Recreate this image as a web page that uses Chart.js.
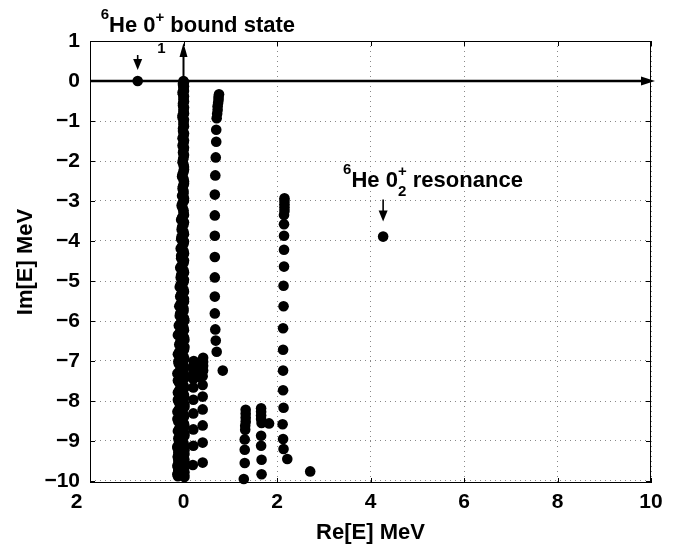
<!DOCTYPE html>
<html><head><meta charset="utf-8">
<script src="https://cdn.jsdelivr.net/npm/chart.js@4/dist/chart.umd.min.js"></script>
<style>html,body{margin:0;padding:0;background:#fff}#wrap{width:684px;height:551px;position:relative}</style>
</head><body><div id="wrap"><canvas id="c" width="684" height="551"></canvas></div>
<script>
// ---- axis ticks ----
const xTicks = [-2, 0, 2, 4, 6, 8, 10];
const xTickLabels = ['2\u2003 ', '0', '2', '4', '6', '8', '10'];
const yTicks = [1, 0, -1, -2, -3, -4, -5, -6, -7, -8, -9, -10];
const yTickLabels = ['1', '0', '\u22121', '\u22122', '\u22123', '\u22124', '\u22125', '\u22126', '\u22127', '\u22128', '\u22129', '\u221210'];

// ---- continuum column near Re=0 (two interleaved sets) ----
const col0Re = [0.00,-0.01,0.01,0.00,-0.02,0.01,0.00,-0.01,0.01,0.00,-0.02,0.01,0.00,-0.01,0.01,-0.02,0.00,0.01,-0.01,0.00,
  -0.02,0.01,0.00,-0.03,0.01,-0.01,0.00,-0.03,0.01,-0.04,0.00,0.01,-0.05,0.00,-0.04,0.01,-0.05,0.00,-0.06,0.01,
  -0.05,0.00,-0.07,0.01,-0.06,0.00,-0.08,0.01,-0.07,0.01,-0.09,0.00,-0.08,0.02,-0.10,0.01,-0.12,0.02,-0.09,0.01,
  -0.12,0.02,-0.10,0.01,-0.13,0.02,-0.09,0.02,-0.12,0.01,-0.10,0.02,-0.13,0.01,-0.11,0.02,-0.12,0.02,-0.10,0.01,
  -0.13,0.02,-0.11,0.01,-0.12,0.02,-0.10,0.02,-0.12,0.01,-0.11,0.02,-0.13,0.01,-0.12,0.02];
const col0Im = [0.00,-0.06,-0.13,-0.21,-0.29,-0.38,-0.47,-0.56,-0.66,-0.76,-0.86,-0.97,-1.08,-1.19,-1.31,-1.43,-1.55,-1.67,-1.79,-1.91,
  -2.03,-2.15,-2.27,-2.39,-2.51,-2.63,-2.75,-2.87,-2.99,-3.11,-3.23,-3.35,-3.47,-3.59,-3.71,-3.83,-3.95,-4.07,-4.19,-4.31,
  -4.43,-4.55,-4.67,-4.79,-4.91,-5.03,-5.15,-5.27,-5.39,-5.51,-5.63,-5.75,-5.87,-5.99,-6.11,-6.23,-6.35,-6.47,-6.59,-6.71,
  -6.83,-6.95,-7.07,-7.19,-7.31,-7.43,-7.55,-7.67,-7.79,-7.91,-8.03,-8.15,-8.27,-8.39,-8.51,-8.63,-8.75,-8.87,-8.99,-9.11,
  -9.17,-9.23,-9.29,-9.35,-9.41,-9.47,-9.53,-9.59,-9.65,-9.71,-9.75,-9.79,-9.83,-9.86,-9.88,-9.90];
const col0bRe = [0.01,-0.01,0.00,0.01,-0.01,0.00,0.01,-0.01,0.00,0.01,-0.02,0.00,0.01,-0.01,0.00,0.01,-0.02,0.00,0.01,-0.01,
  0.00,0.01,-0.02,0.00,0.01,-0.02,0.00,0.01,-0.02,
  -0.02,0.00,-0.03,0.01,-0.03,0.00,-0.04,0.01,-0.03,0.00,-0.05,0.01,-0.04,0.00,-0.05,0.01,-0.06,0.00,-0.05,0.01,-0.06,0.00,-0.07,0.01,-0.06,
  0.00,-0.08,0.01,-0.07,0.02,-0.09,0.00,-0.11,0.01,-0.08,0.02,-0.12,0.00,-0.09,0.01,-0.12,0.02,-0.10,0.00,-0.13,0.01,-0.09,0.02,-0.11,
  0.00,-0.13,0.01,-0.10,0.02,-0.12,0.00,-0.11,0.02,-0.13,0.00,-0.11,0.01,-0.12,0.01];
const col0bIm = [-0.03,-0.10,-0.17,-0.25,-0.33,-0.42,-0.51,-0.61,-0.71,-0.81,-0.91,-1.02,-1.13,-1.25,-1.37,-1.49,-1.61,-1.73,-1.85,-1.97,
  -2.09,-2.21,-2.33,-2.45,-2.57,-2.69,-2.81,-2.93,
  -3.05,-3.17,-3.29,-3.41,-3.53,-3.65,-3.77,-3.89,-4.01,-4.13,-4.25,-4.37,-4.49,-4.61,-4.73,-4.85,-4.97,-5.09,-5.21,-5.33,-5.45,-5.57,-5.69,-5.81,-5.93,
  -6.05,-6.17,-6.29,-6.41,-6.53,-6.65,-6.77,-6.89,-7.01,-7.13,-7.25,-7.37,-7.49,-7.61,-7.73,-7.85,-7.97,-8.09,-8.21,-8.33,
  -8.45,-8.57,-8.69,-8.81,-8.93,-9.05,-9.14,-9.20,-9.26,-9.32,-9.38,-9.44,-9.50,-9.56,-9.62,-9.68,-9.73,-9.77,-9.81,-9.85];

// ---- column near Re=0.7 ----
const colARe = [0.76,0.75,0.75,0.74,0.73,0.73,0.72,0.71,0.70,0.70,0.69,0.68,0.67,0.67,0.67,0.67,0.67,0.67,0.67,0.68,0.69,0.71,0.84];
const colAIm = [-0.33,-0.40,-0.47,-0.55,-0.63,-0.72,-0.82,-0.93,-1.22,-1.52,-1.91,-2.36,-2.84,-3.36,-3.87,-4.40,-4.91,-5.39,-5.81,-6.21,-6.49,-6.77,-7.24];

// ---- columns near Re=0.2 / 0.4 ----
const colERe = [0.22,0.22,0.22,0.21,0.21,0.21,0.21,0.21,0.21,0.21,0.20, 0.42,0.42,0.42,0.42,0.41,0.41,0.41,0.41,0.41,0.41,0.41, 0.32,0.30,0.33];
const colEIm = [-7.00,-7.10,-7.20,-7.30,-7.45,-7.66,-7.97,-8.31,-8.71,-9.12,-9.60, -6.92,-7.02,-7.12,-7.24,-7.38,-7.60,-7.89,-8.21,-8.61,-9.04,-9.54, -7.05,-7.25,-7.40];

// ---- columns near Re=1.3 and 1.7 ----
const colCRe = [1.33,1.33,1.33,1.33,1.32,1.32,1.31,1.31,1.31,1.29];
const colCIm = [-8.22,-8.32,-8.42,-8.52,-8.62,-8.72,-8.96,-9.22,-9.55,-9.95];
const colDRe = [1.66,1.66,1.66,1.66,1.67,1.83,1.66,1.66,1.67,1.67];
const colDIm = [-8.18,-8.27,-8.36,-8.45,-8.55,-8.56,-8.87,-9.12,-9.47,-9.83];

// ---- column near Re=2.15 ----
const colBRe = [2.16,2.16,2.16,2.16,2.16,2.15,2.15,2.15,2.15,2.15,2.14,2.14,2.13,2.13,2.13,2.13,2.14,2.12,2.13,2.14,2.22,2.71];
const colBIm = [-2.93,-3.00,-3.08,-3.16,-3.25,-3.35,-3.58,-3.87,-4.22,-4.64,-5.12,-5.63,-6.18,-6.72,-7.24,-7.73,-8.17,-8.58,-8.95,-9.20,-9.45,-9.76];

// ---- physical states ----
const boundRe = [-0.98], boundIm = [0.0];
const resRe = [4.27], resIm = [-3.89];

const zipPts = (a, b) => a.slice(0, Math.min(a.length, b.length)).map((v, i) => ({x: v, y: b[i]}));
const allPts = [].concat(zipPts(col0Re, col0Im), zipPts(col0bRe, col0bIm), zipPts(colARe, colAIm), zipPts(colERe, colEIm),
  zipPts(colCRe, colCIm), zipPts(colDRe, colDIm), zipPts(colBRe, colBIm));

const FONT = '"Liberation Sans", Arial, Helvetica, sans-serif';
const R = 5.3;

function drawRich(ctx, x, base, parts) {
  let cx = x;
  for (const p of parts) {
    if (p.stack) {
      let w = 0;
      for (const q of p.stack) {
        ctx.font = 'bold ' + q.size + 'px ' + FONT;
        ctx.fillText(q.t, cx, base + q.dy);
        w = Math.max(w, ctx.measureText(q.t).width);
      }
      cx += w;
    } else {
      ctx.font = 'bold ' + p.size + 'px ' + FONT;
      ctx.fillText(p.t, cx, base + p.dy);
      cx += ctx.measureText(p.t).width;
    }
  }
}
function downArrow(ctx, x, y1, tip) {
  ctx.beginPath(); ctx.moveTo(x, y1); ctx.lineTo(x, tip - 8); ctx.lineWidth = 1.6; ctx.stroke();
  ctx.beginPath(); ctx.moveTo(x - 4.5, tip - 11); ctx.lineTo(x + 4.5, tip - 11); ctx.lineTo(x, tip); ctx.closePath(); ctx.fill();
}

const deco = {
  id: 'deco',
  beforeDatasetsDraw(chart) {
    const {ctx, chartArea: a, scales: {x, y}} = chart;
    ctx.save();
    ctx.strokeStyle = '#000'; ctx.fillStyle = '#000';
    ctx.lineWidth = 1;
    ctx.strokeRect(Math.round(a.left) + 0.5, Math.round(a.top) + 0.5, Math.round(a.right - a.left) - 1, Math.round(a.bottom - a.top) - 1);
    ctx.beginPath();
    for (const v of xTicks) {
      const px = Math.round(x.getPixelForValue(v)) + 0.5;
      ctx.moveTo(px, a.bottom); ctx.lineTo(px, a.bottom - 5);
      ctx.moveTo(px, a.top); ctx.lineTo(px, a.top + 5);
    }
    for (const v of yTicks) {
      const py = Math.round(y.getPixelForValue(v)) + 0.5;
      ctx.moveTo(a.left, py); ctx.lineTo(a.left + 5, py);
      ctx.moveTo(a.right, py); ctx.lineTo(a.right - 5, py);
    }
    ctx.stroke();
    const y0 = y.getPixelForValue(0), x0 = x.getPixelForValue(0);
    ctx.lineWidth = 2.5;
    ctx.beginPath(); ctx.moveTo(a.left, y0); ctx.lineTo(a.right - 8, y0); ctx.stroke();
    ctx.beginPath(); ctx.moveTo(a.right - 10, y0 - 4.5); ctx.lineTo(a.right + 4, y0); ctx.lineTo(a.right - 10, y0 + 4.5); ctx.closePath(); ctx.fill();
    ctx.lineWidth = 2;
    ctx.beginPath(); ctx.moveTo(x0, y0); ctx.lineTo(x0, a.top + 12); ctx.stroke();
    ctx.beginPath(); ctx.moveTo(x0 - 4, a.top + 16); ctx.lineTo(x0, a.top + 2); ctx.lineTo(x0 + 4, a.top + 16); ctx.closePath(); ctx.fill();
    ctx.font = 'bold 15px ' + FONT; ctx.textAlign = 'center'; ctx.textBaseline = 'alphabetic';
    ctx.fillText('1', x0 - 22, a.top + 12);
    ctx.restore();
  },
  afterDraw(chart) {
    const {ctx, scales: {x, y}} = chart;
    ctx.save();
    ctx.fillStyle = '#000'; ctx.strokeStyle = '#000';
    ctx.textAlign = 'left'; ctx.textBaseline = 'alphabetic';
    const bx = x.getPixelForValue(boundRe[0]), by = y.getPixelForValue(boundIm[0]);
    drawRich(ctx, bx - 37, by - 49, [
      {t: '6', size: 15, dy: -13}, {t: 'He 0', size: 22, dy: 0}, {t: '+', size: 15, dy: -10}, {t: ' bound state', size: 22, dy: 0}]);
    downArrow(ctx, bx, by - 26, by - 11);
    const rx = x.getPixelForValue(resRe[0]), ry = y.getPixelForValue(resIm[0]);
    drawRich(ctx, rx - 40, ry - 50, [
      {t: '6', size: 15, dy: -13}, {t: 'He 0', size: 22, dy: 0},
      {stack: [{t: '+', size: 15, dy: -11}, {t: '2', size: 15, dy: 9}]}, {t: ' resonance', size: 22, dy: 0}]);
    downArrow(ctx, rx, ry - 37, ry - 15);
    ctx.restore();
  }
};

new Chart(document.getElementById('c'), {
  type: 'scatter',
  data: {datasets: [
    {data: allPts, backgroundColor: '#000', borderColor: '#000', borderWidth: 0, pointRadius: R, pointHoverRadius: R, clip: false},
    {data: zipPts(boundRe, boundIm), backgroundColor: '#000', borderColor: '#000', borderWidth: 0, pointRadius: R, clip: false},
    {data: zipPts(resRe, resIm), backgroundColor: '#000', borderColor: '#000', borderWidth: 0, pointRadius: R, clip: false}
  ]},
  options: {
    responsive: false, animation: false, devicePixelRatio: 1,
    layout: {padding: {top: 41, right: 33, left: 0, bottom: 0}},
    plugins: {legend: {display: false}, tooltip: {enabled: false}},
    scales: {
      x: {
        type: 'linear', min: -2, max: 10,
        afterFit: s => { s.height = 68; },
        afterBuildTicks: s => { s.ticks = xTicks.map(v => ({value: v})); },
        grid: {color: '#888', drawTicks: false},
        border: {display: false, dash: [1, 4]},
        ticks: {padding: 7, color: '#000', font: {family: FONT, size: 21, weight: 'bold'},
          callback: (v) => xTickLabels[xTicks.indexOf(v)], maxRotation: 0, autoSkip: false},
        title: {display: true, text: 'Re[E] MeV', color: '#000', font: {family: FONT, size: 22, weight: 'bold'}, padding: {top: 0, bottom: 5}}
      },
      y: {
        type: 'linear', min: -10.05, max: 1,
        afterFit: s => { s.width = 90; },
        afterBuildTicks: s => { s.ticks = yTicks.map(v => ({value: v})); },
        grid: {color: '#888', drawTicks: false},
        border: {display: false, dash: [1, 4]},
        ticks: {padding: 10, color: '#000', font: {family: FONT, size: 21, weight: 'bold'},
          callback: (v) => yTickLabels[yTicks.indexOf(v)], autoSkip: false},
        title: {display: true, text: 'Im[E] MeV', color: '#000', font: {family: FONT, size: 22, weight: 'bold'}, padding: {top: 13, bottom: 0}}
      }
    }
  },
  plugins: [deco]
});
</script></body></html>
